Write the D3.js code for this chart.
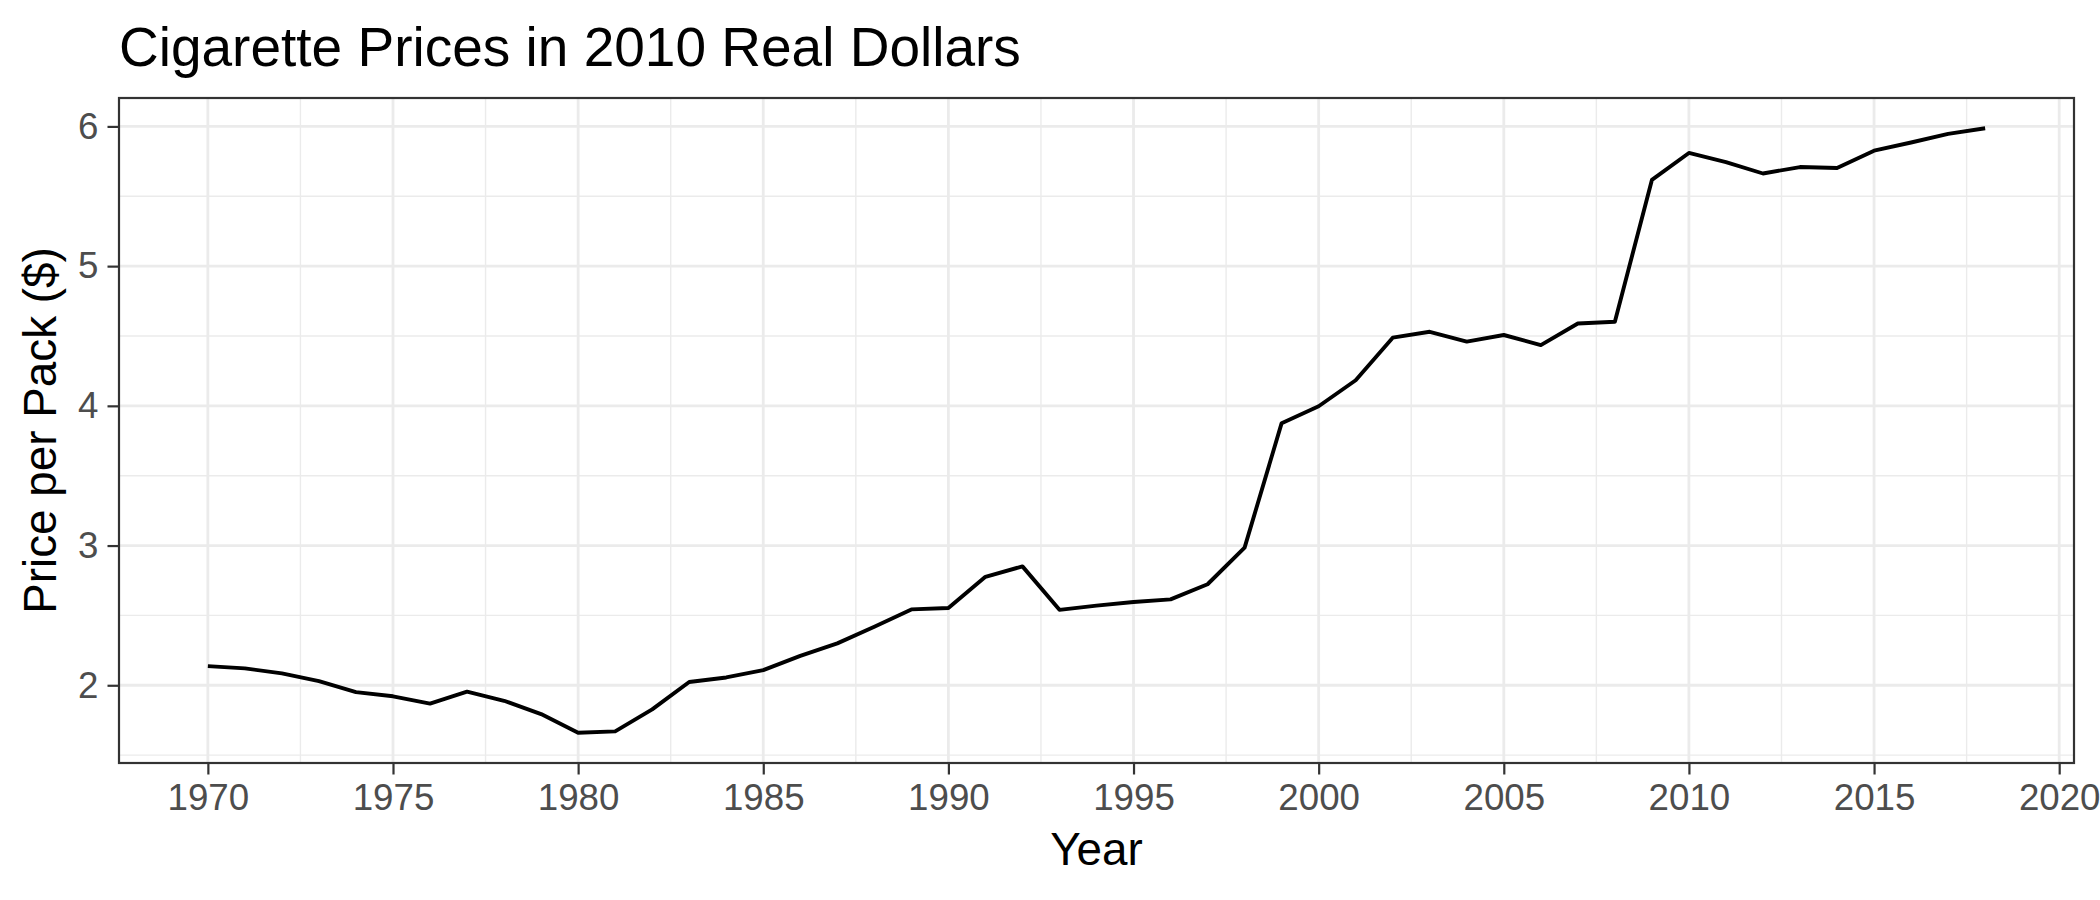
<!DOCTYPE html>
<html><head><meta charset="utf-8">
<script src="https://cdn.jsdelivr.net/npm/d3@7"></script>
<style>body{margin:0;background:#fff}svg{display:block}</style>
</head><body>
<svg id="c" width="2100" height="900"></svg>
<script>
const years = [1970,1971,1972,1973,1974,1975,1976,1977,1978,1979,1980,1981,1982,1983,1984,1985,1986,1987,1988,1989,1990,1991,1992,1993,1994,1995,1996,1997,1998,1999,2000,2001,2002,2003,2004,2005,2006,2007,2008,2009,2010,2011,2012,2013,2014,2015,2016,2017,2018];
const prices = [2.137,2.121,2.085,2.030,1.951,1.921,1.869,1.954,1.889,1.794,1.660,1.670,1.827,2.023,2.056,2.108,2.210,2.300,2.419,2.543,2.553,2.776,2.851,2.540,2.570,2.596,2.615,2.723,2.985,3.876,3.997,4.183,4.488,4.530,4.460,4.507,4.435,4.589,4.602,5.617,5.810,5.745,5.663,5.709,5.702,5.826,5.885,5.947,5.987];
const xTicks = [1970,1975,1980,1985,1990,1995,2000,2005,2010,2015,2020];
const xMinor = [1972.5,1977.5,1982.5,1987.5,1992.5,1997.5,2002.5,2007.5,2012.5,2017.5];
const yTicks = [2,3,4,5,6];
const yMinor = [1.5,2.5,3.5,4.5,5.5];
const title = "Cigarette Prices in 2010 Real Dollars";
const xTitle = "Year";
const yTitle = "Price per Pack ($)";

const data = years.map((y,i)=>({year:y, price:prices[i]}));
const L=119, R=2074, T=98, B=763;
const xe = d3.extent(years), ye = d3.extent(prices);
const xp = (xe[1]-xe[0])*0.05, yp = (ye[1]-ye[0])*0.05;
const x = d3.scaleLinear().domain([xe[0]-xp, xe[1]+xp]).range([L,R]);
const y = d3.scaleLinear().domain([ye[0]-yp, ye[1]+yp]).range([B,T]);
const font = "'Liberation Sans', Arial, Helvetica, sans-serif";
const svg = d3.select("#c");

const g = svg.append("g");
// minor grid
g.selectAll(".xm").data(xMinor).join("line")
  .attr("x1",d=>x(d)).attr("x2",d=>x(d)).attr("y1",T).attr("y2",B)
  .attr("stroke","#EBEBEB").attr("stroke-width",1.4);
g.selectAll(".ym").data(yMinor).join("line")
  .attr("y1",d=>y(d)).attr("y2",d=>y(d)).attr("x1",L).attr("x2",R)
  .attr("stroke","#EBEBEB").attr("stroke-width",1.4);
// major grid
g.selectAll(".xM").data(xTicks).join("line")
  .attr("x1",d=>x(d)).attr("x2",d=>x(d)).attr("y1",T).attr("y2",B)
  .attr("stroke","#EBEBEB").attr("stroke-width",2.8);
g.selectAll(".yM").data(yTicks).join("line")
  .attr("y1",d=>y(d)).attr("y2",d=>y(d)).attr("x1",L).attr("x2",R)
  .attr("stroke","#EBEBEB").attr("stroke-width",2.8);

// line
svg.append("path").datum(data)
  .attr("d", d3.line().x(d=>x(d.year)).y(d=>y(d.price)))
  .attr("fill","none").attr("stroke","#000").attr("stroke-width",3.9)
  .attr("stroke-linejoin","round");

// panel border
svg.append("rect").attr("x",L).attr("y",T).attr("width",R-L).attr("height",B-T)
  .attr("fill","none").attr("stroke","#333333").attr("stroke-width",2.2);

// axes
const xAxis = d3.axisBottom(x).tickValues(xTicks).tickFormat(d3.format("d")).tickSize(11.5).tickPadding(9);
const gx = svg.append("g").attr("transform",`translate(0,${B})`).call(xAxis);
const yAxis = d3.axisLeft(y).tickValues(yTicks).tickFormat(d3.format("d")).tickSize(11.5).tickPadding(9);
const gy = svg.append("g").attr("transform",`translate(${L},0)`).call(yAxis);
[gx,gy].forEach(a=>{
  a.select(".domain").remove();
  a.selectAll(".tick line").attr("stroke","#333333").attr("stroke-width",2.2);
  a.selectAll(".tick text").attr("fill","#4D4D4D").attr("font-family",font).attr("font-size",36.7);
});
gx.selectAll(".tick text").attr("dy","0.71em");

// titles
svg.append("text").attr("x",L).attr("y",66).text(title)
  .attr("font-family",font).attr("font-size",55).attr("fill","#000");
svg.append("text").attr("x",(L+R)/2).attr("y",865).attr("text-anchor","middle").text(xTitle)
  .attr("font-family",font).attr("font-size",45.8).attr("fill","#000");
svg.append("text").attr("transform",`translate(56,${(T+B)/2}) rotate(-90)`).attr("text-anchor","middle").text(yTitle)
  .attr("font-family",font).attr("font-size",45.8).attr("fill","#000");
</script>
</body></html>
